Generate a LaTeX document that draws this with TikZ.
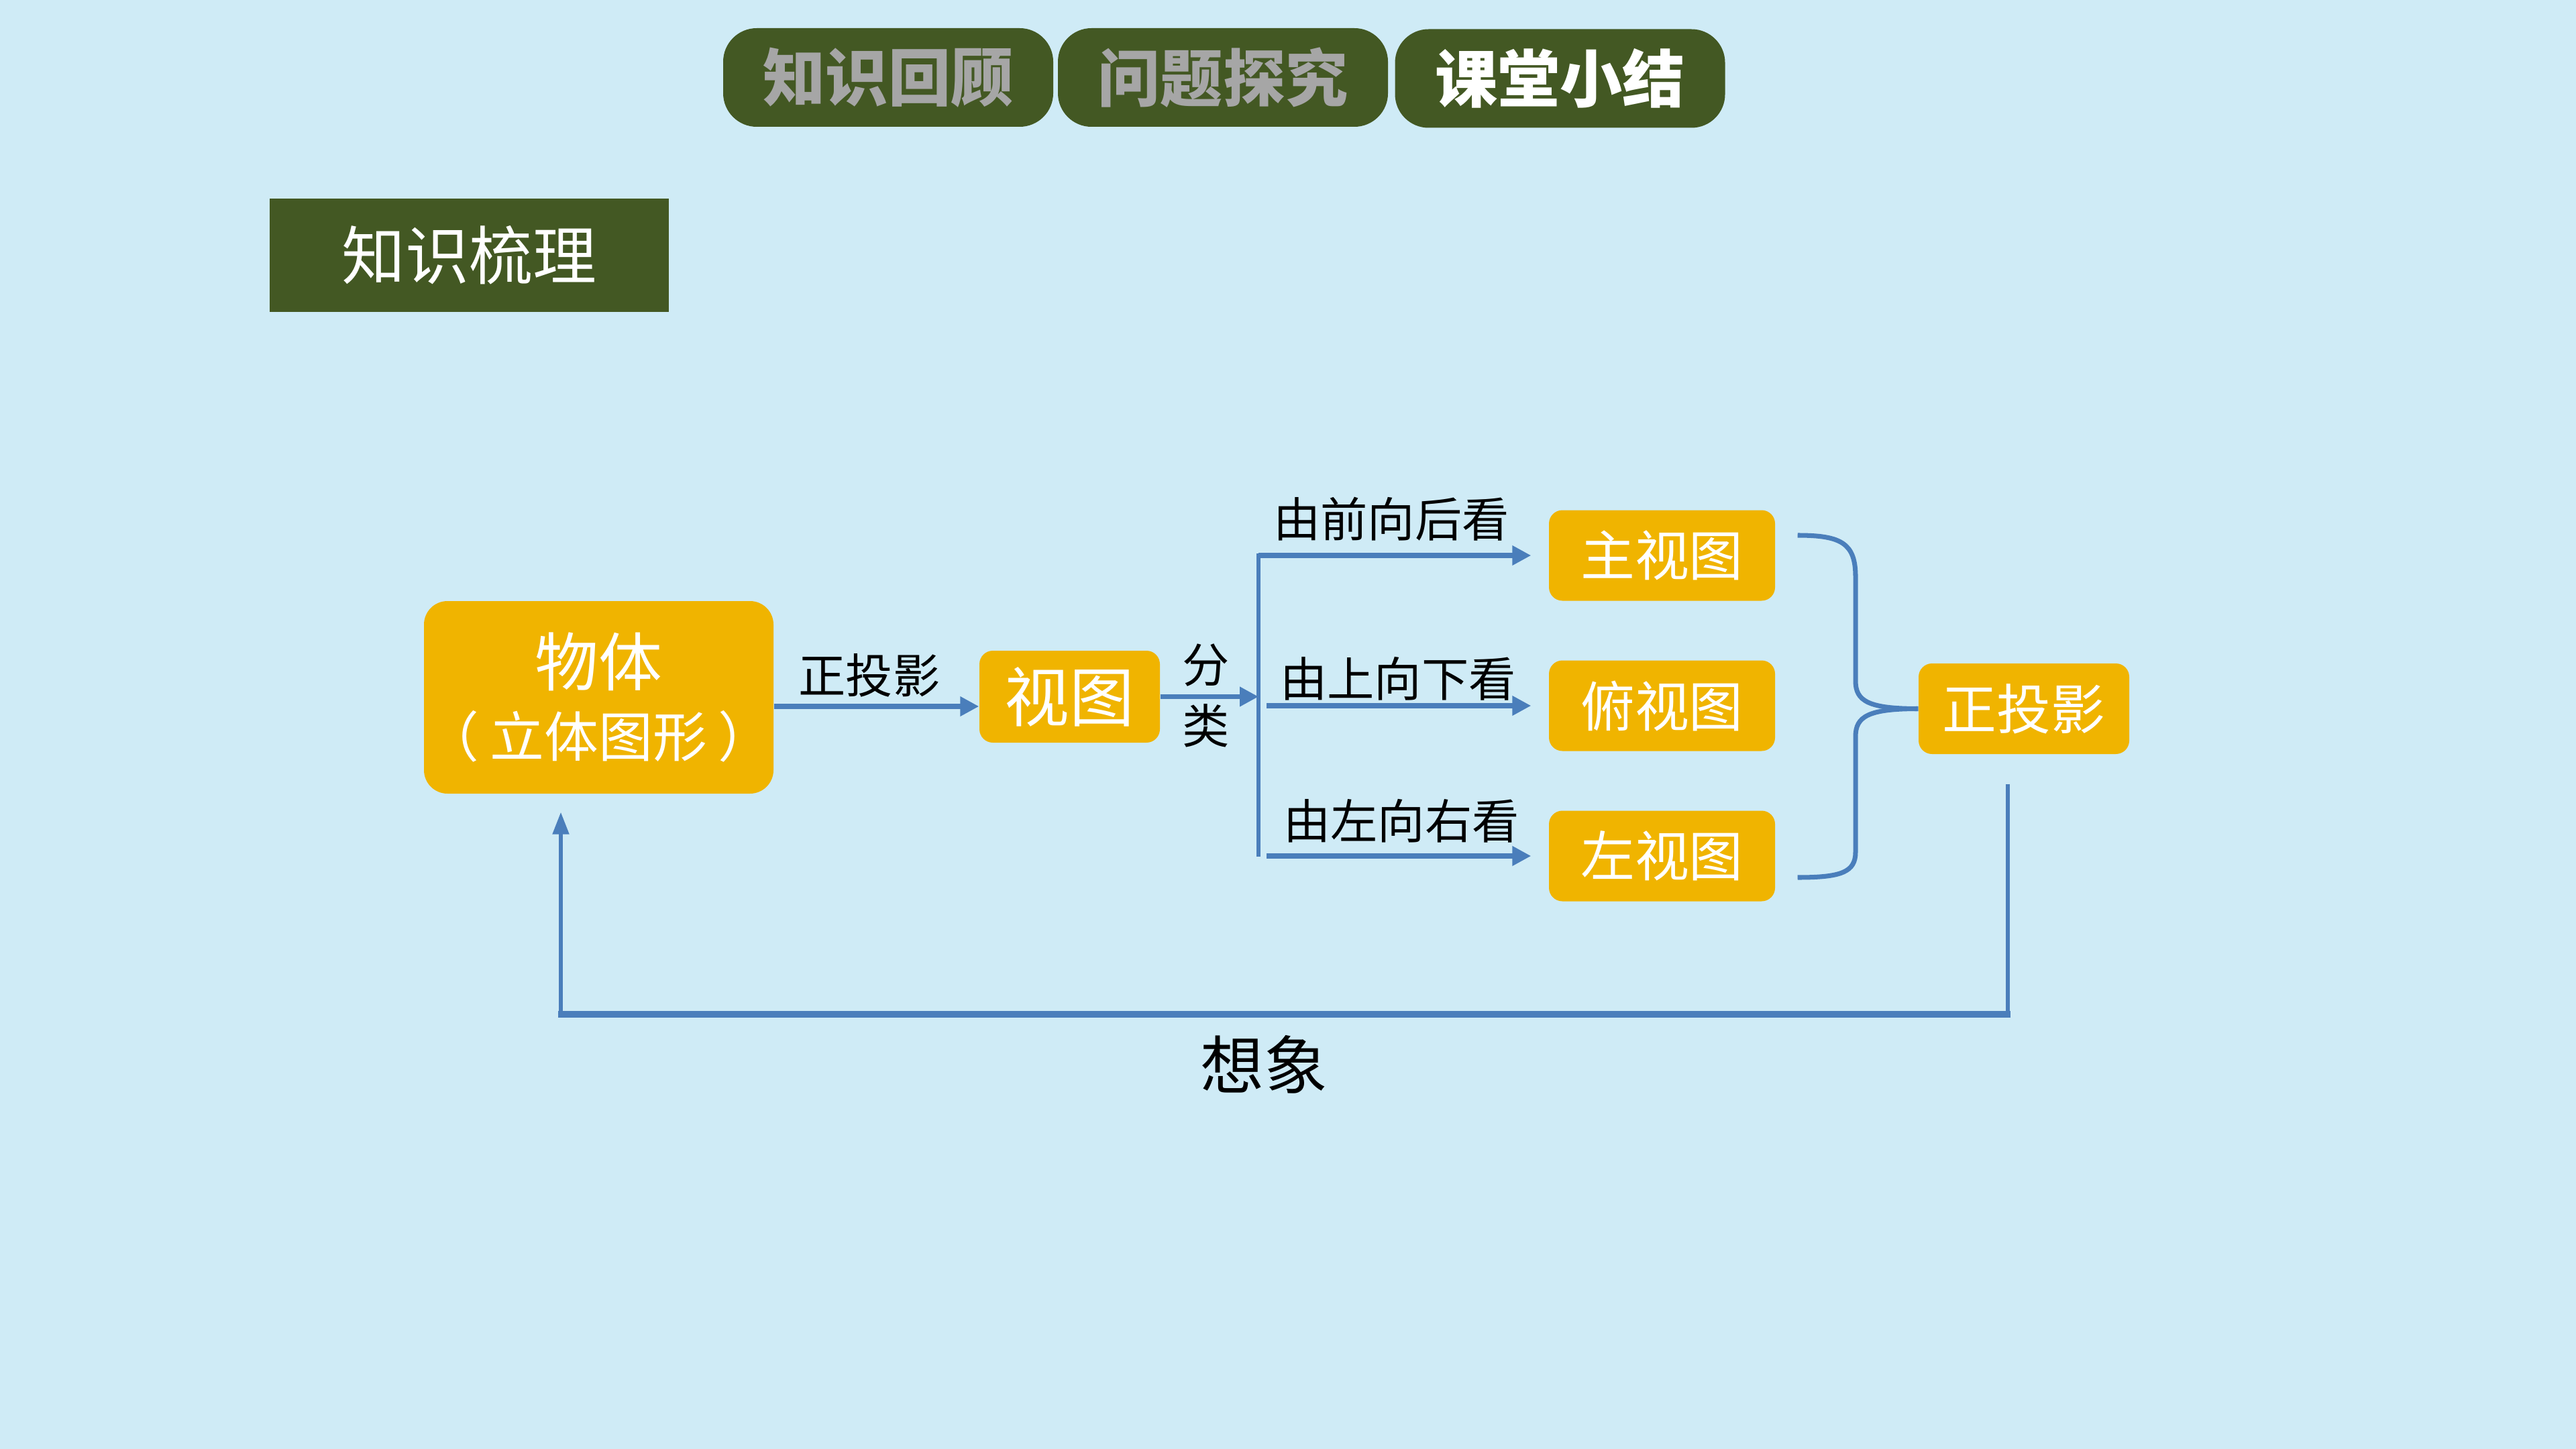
\documentclass[tikz,border=0pt]{standalone}
\usepackage{fontspec}
\usepackage{tikz}
\usetikzlibrary{arrows.meta}
\newfontfamily\cjk{Noto Sans CJK SC}
\definecolor{bgblue}{RGB}{207,235,246}
\definecolor{tabgreen}{RGB}{67,88,35}
\definecolor{tabgray}{RGB}{166,166,166}
\definecolor{boxgold}{RGB}{240,180,0}
\definecolor{linkblue}{RGB}{74,126,187}

\begin{document}
\begin{tikzpicture}[x=1cm, y=1cm,
    tab/.style={fill=tabgreen, rounded corners=0.5cm, minimum width=4.92cm, minimum height=1.47cm, inner sep=0pt, font=\cjk\bfseries\fontsize{26.5}{30}\selectfont},
    goldbox/.style={fill=boxgold, rounded corners=0.2cm, inner sep=0pt, text=white, align=center, font=\cjk\fontsize{23}{28}\selectfont},
    lbl/.style={align=center, font=\cjk\fontsize{20}{26}\selectfont},
    flow/.style={draw=linkblue, line width=2.1pt, -{Triangle[length=0.28cm, width=0.28cm]}},
    link/.style={draw=linkblue, line width=1.5pt}]
\useasboundingbox (0,0) rectangle (38.4,-21.6);
\fill[bgblue] (0,0) rectangle (38.4,-21.6);

% header tabs
\node[tab, text=tabgray] (recall) at (13.24,-1.155) {知识回顾};
\node[tab, text=tabgray] (explore) at (18.23,-1.155) {问题探究};
\node[tab, text=white] (summary) at (23.255,-1.17) {课堂小结};
\node[fill=tabgreen, minimum width=5.95cm, minimum height=1.69cm, inner sep=0pt, text=white, font=\cjk\fontsize{27}{30}\selectfont] (sort) at (6.995,-3.805) {知识梳理};

% boxes
\node[goldbox, rounded corners=0.35cm, minimum width=5.21cm, minimum height=2.87cm, font=\cjk\fontsize{27}{30}\selectfont] (wuti) at (8.925,-10.395) {物体\\\fontsize{23}{30}\selectfont（\hspace{0.2em}立体图形\hspace{0.2em}）};
\node[goldbox, minimum width=2.69cm, minimum height=1.37cm, font=\cjk\fontsize{27.5}{30}\selectfont] (shitu) at (15.945,-10.385) {视图};
\node[goldbox, minimum width=3.37cm, minimum height=1.35cm] (zhu) at (24.775,-8.28) {主视图};
\node[goldbox, minimum width=3.37cm, minimum height=1.35cm] (fu) at (24.775,-10.52) {俯视图};
\node[goldbox, minimum width=3.37cm, minimum height=1.35cm] (zuo) at (24.775,-12.76) {左视图};
\node[goldbox, minimum width=3.14cm, minimum height=1.35cm] (zhengtou) at (30.17,-10.565) {正投影};

% labels
\node[lbl] (touying) at (12.96,-10.07) {正投影};
\node[lbl] (fenlei) at (17.98,-10.37) {分\\类};
\node[lbl] (qian) at (20.74,-7.74) {由前向后看};
\node[lbl] (shang) at (20.84,-10.12) {由上向下看};
\node[lbl] (zuoyou) at (20.89,-12.24) {由左向右看};
\node[font=\cjk\fontsize{27}{30}\selectfont] (xiang) at (18.84,-15.87) {想象};

% arrows
\coordinate (trunktop) at (18.76,-8.25);
\coordinate (trunkbot) at (18.76,-12.77);
\draw[flow] (wuti.east |- 0,-10.53) -- (shitu.west |- 0,-10.53);
\draw[flow] (shitu.east) -- (shitu.east -| trunktop);
\draw[link] (trunktop) -- (trunkbot);
\draw[flow] (zhu.west -| trunktop) -- ([xshift=-2.6mm]zhu.west);
\draw[flow] (fu.west -| 18.88,0) -- ([xshift=-2.6mm]fu.west);
\draw[flow] (zuo.west -| 18.88,0) -- ([xshift=-2.6mm]zuo.west);

% brace
\coordinate (bracetop) at ([xshift=3.3mm,yshift=3mm]zhu.east);
\coordinate (bracebot) at ([xshift=3.3mm,yshift=-3.2mm]zuo.east);
\draw[link, line width=2pt] (bracetop) .. controls (27.45,-7.98) and (27.66,-8.1) .. (27.66,-8.6) -- (27.66,-10.15) .. controls (27.66,-10.45) and (27.85,-10.565) .. (zhengtou.west);
\draw[link, line width=2pt] (zhengtou.west) .. controls (27.85,-10.565) and (27.66,-10.68) .. (27.66,-10.98) -- (27.66,-12.7) .. controls (27.66,-13.0) and (27.45,-13.08) .. (bracebot);

% feedback
\coordinate (fbstart) at ([xshift=-2.4mm,yshift=-4.4mm]zhengtou.south);
\coordinate (fbend) at ([xshift=-5.65mm,yshift=-2.7mm]wuti.south);
\coordinate (fbright) at (fbstart |- 0,-15.12);
\coordinate (fbleft) at (fbend |- 0,-15.12);
\draw[link] (fbstart) -- (fbright);
\draw[link, line width=2.6pt] ([xshift=0.4mm]fbright) -- ([xshift=-0.4mm]fbleft);
\draw[link, -{Triangle[length=0.33cm, width=0.24cm]}] (fbleft) -- (fbend);
\end{tikzpicture}
\end{document}
